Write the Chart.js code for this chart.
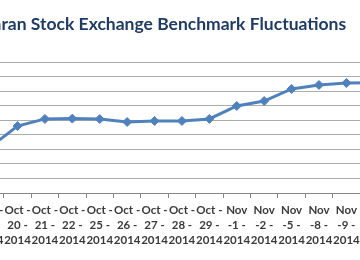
<!DOCTYPE html>
<html>
<head>
<meta charset="utf-8">
<script src="https://cdn.jsdelivr.net/npm/chart.js@4"></script>
<style>
  html, body { margin: 0; padding: 0; background: #fff; }
  #frame { position: relative; width: 360px; height: 260px; overflow: hidden; }
  /* chart is wider than the window: y axis and the end points sit outside, like the cropped original */
  #chartBox { position: absolute; left: -73px; top: 0; width: 466px; height: 260px; }
</style>
</head>
<body>
<div id="frame">
  <div id="chartBox"><canvas id="indexChart" width="466" height="260"></canvas></div>
</div>
<script>
// trading days, each label wrapped on three lines like the original
const days = [
  ['Oct -', '19 -', '2014'],
  ['Oct -', '20 -', '2014'],
  ['Oct -', '21 -', '2014'],
  ['Oct -', '22 -', '2014'],
  ['Oct -', '25 -', '2014'],
  ['Oct -', '26 -', '2014'],
  ['Oct -', '27 -', '2014'],
  ['Oct -', '28 -', '2014'],
  ['Oct -', '29 -', '2014'],
  ['Nov', '-1 -', '2014'],
  ['Nov', '-2 -', '2014'],
  ['Nov', '-5 -', '2014'],
  ['Nov', '-8 -', '2014'],
  ['Nov', '-9 -', '2014'],
  ['Nov', '-10 -', '2014']
];

// benchmark index
const indexValues = [63150, 64600, 65090, 65110, 65080, 64880, 64950, 64950, 65090, 65980, 66320, 67150, 67420, 67560, 67580];

// y ticks (hidden, axis is cut off in the reference)
const yMin = 60000;
const yMax = 69000;
const yStep = 1000;

const ctx = document.getElementById('indexChart');

new Chart(ctx, {
  type: 'line',
  data: {
    labels: days,
    datasets: [{
      label: 'Index',
      data: indexValues,
      borderColor: '#4F81BD',
      backgroundColor: '#4F81BD',
      borderWidth: 3,
      pointStyle: 'rectRot',
      pointRadius: 4.5,
      pointBorderWidth: 1,
      pointBorderColor: '#4F81BD',
      pointBackgroundColor: '#4F81BD',
      tension: 0,
      fill: false
    }]
  },
  options: {
    responsive: false,
    animation: false,
    layout: { padding: 0 },
    plugins: {
      legend: { display: false },
      tooltip: { enabled: false },
      title: {
        display: true,
        text: 'Tehran Stock Exchange Benchmark Fluctuations',
        color: '#1F3B63',
        font: { family: 'Lato', size: 17.5, weight: 'bold' },
        padding: { top: 14, bottom: 27 }
      }
    },
    scales: {
      x: {
        offset: true,
        grid: {
          offset: true,
          drawOnChartArea: false,
          drawTicks: true,
          tickLength: 5,
          color: '#868686'
        },
        border: { display: true, color: '#868686' },
        ticks: {
          autoSkip: false,
          maxRotation: 0,
          minRotation: 0,
          padding: 5,
          color: '#3a3a3a',
          font: { family: 'Lato', size: 11.5, weight: 'bold', lineHeight: 1.3 }
        },
        afterFit: (scale) => { scale.height = 67; }
      },
      y: {
        min: yMin,
        max: yMax,
        ticks: { display: false, stepSize: yStep },
        grid: { color: '#ababab', drawTicks: false },
        border: { display: false },
        afterFit: (scale) => { scale.width = 49.4; }
      }
    }
  }
});
</script>
</body>
</html>
